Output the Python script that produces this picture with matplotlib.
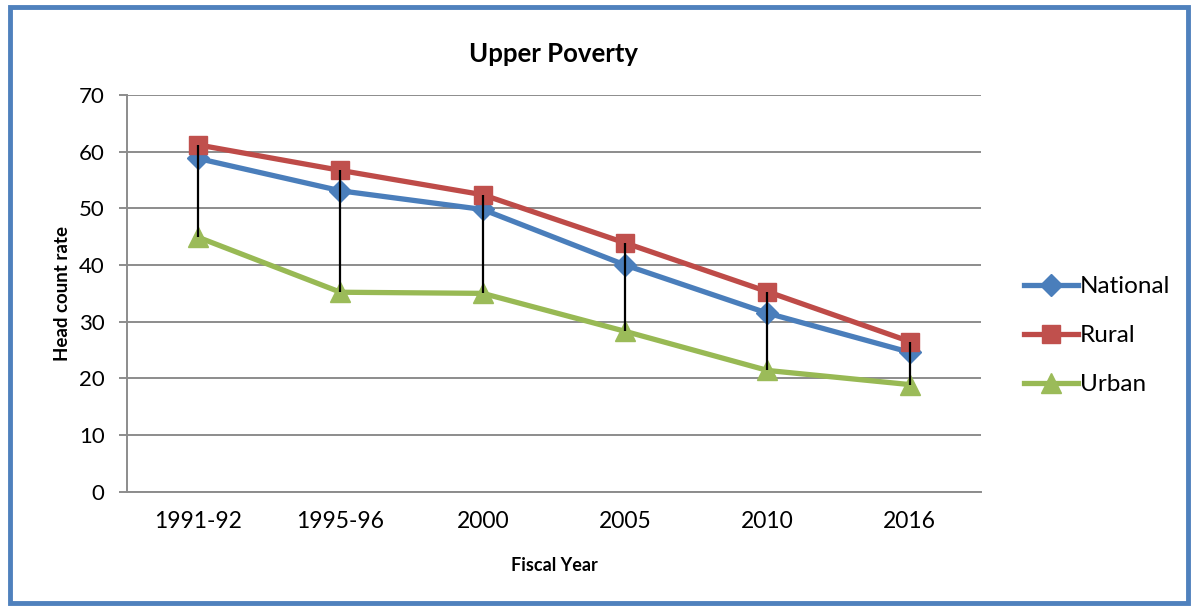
import matplotlib
matplotlib.use("Agg")
import matplotlib.pyplot as plt
from matplotlib.patches import Rectangle

years = ["1991-92", "1995-96", "2000", "2005", "2010", "2016"]
national = [58.8, 53.1, 49.8, 40.0, 31.5, 24.6]
rural = [61.2, 56.7, 52.4, 43.9, 35.3, 26.5]
urban = [44.9, 35.2, 35.0, 28.3, 21.4, 18.9]
yticks = [0, 10, 20, 30, 40, 50, 60, 70]

plt.rcParams['font.family'] = ['Lato', 'DejaVu Sans']

fig = plt.figure(figsize=(11.92, 6.06), dpi=100)
fig.patch.set_facecolor('white')
fig.patches.append(Rectangle((0.0085, 0.005), 0.988, 0.984, transform=fig.transFigure,
                             fill=False, edgecolor='#4F81BD', linewidth=3.5))

ax = fig.add_axes([0.1065, 0.1886, 0.7165, 0.6546])
x = list(range(len(years)))

ax.plot(x, national, color='#4A7EBB', lw=3.8, marker='D', markersize=11,
        markerfacecolor='#4A7EBB', markeredgecolor='#4A7EBB', label='National', zorder=3)
ax.plot(x, rural, color='#BE4B48', lw=3.8, marker='s', markersize=13,
        markerfacecolor='#C0504D', markeredgecolor='#C0504D', label='Rural', zorder=4)
ax.plot(x, urban, color='#98B954', lw=3.8, marker='^', markersize=14,
        markerfacecolor='#9BBB59', markeredgecolor='#9BBB59', label='Urban', zorder=3)
ax.vlines(x, urban, rural, color='black', lw=1.6, zorder=6)

ax.set_xlim(-0.5, len(years) - 0.5)
ax.set_ylim(0, 70)
ax.set_yticks(yticks)
ax.set_xticks(x)
ax.set_xticklabels(years)
ax.yaxis.grid(True, color='#8C8C8C', lw=1.4)
ax.set_axisbelow(True)
for s in ['top', 'right']:
    ax.spines[s].set_visible(False)
for s in ['left', 'bottom']:
    ax.spines[s].set_color('#8C8C8C')
    ax.spines[s].set_linewidth(1.4)
ax.tick_params(axis='y', length=6, width=1.4, color='#8C8C8C', labelsize=16, pad=10)
ax.tick_params(axis='x', length=0, labelsize=16.5, pad=14)

ax.set_title('Upper Poverty', fontsize=18.5, fontweight='bold', pad=24)
ax.set_ylabel('Head count rate', fontsize=13.5, fontweight='bold', labelpad=6)
ax.set_xlabel('Fiscal Year', fontsize=13, fontweight='bold', labelpad=18)

ax.legend(loc='center left', bbox_to_anchor=(0.851, 0.446), bbox_transform=fig.transFigure,
          frameon=False, fontsize=17.5, handlelength=2.2, handletextpad=0.1,
          labelspacing=1.15, borderaxespad=0)

fig.savefig('out.png', dpi=100)
